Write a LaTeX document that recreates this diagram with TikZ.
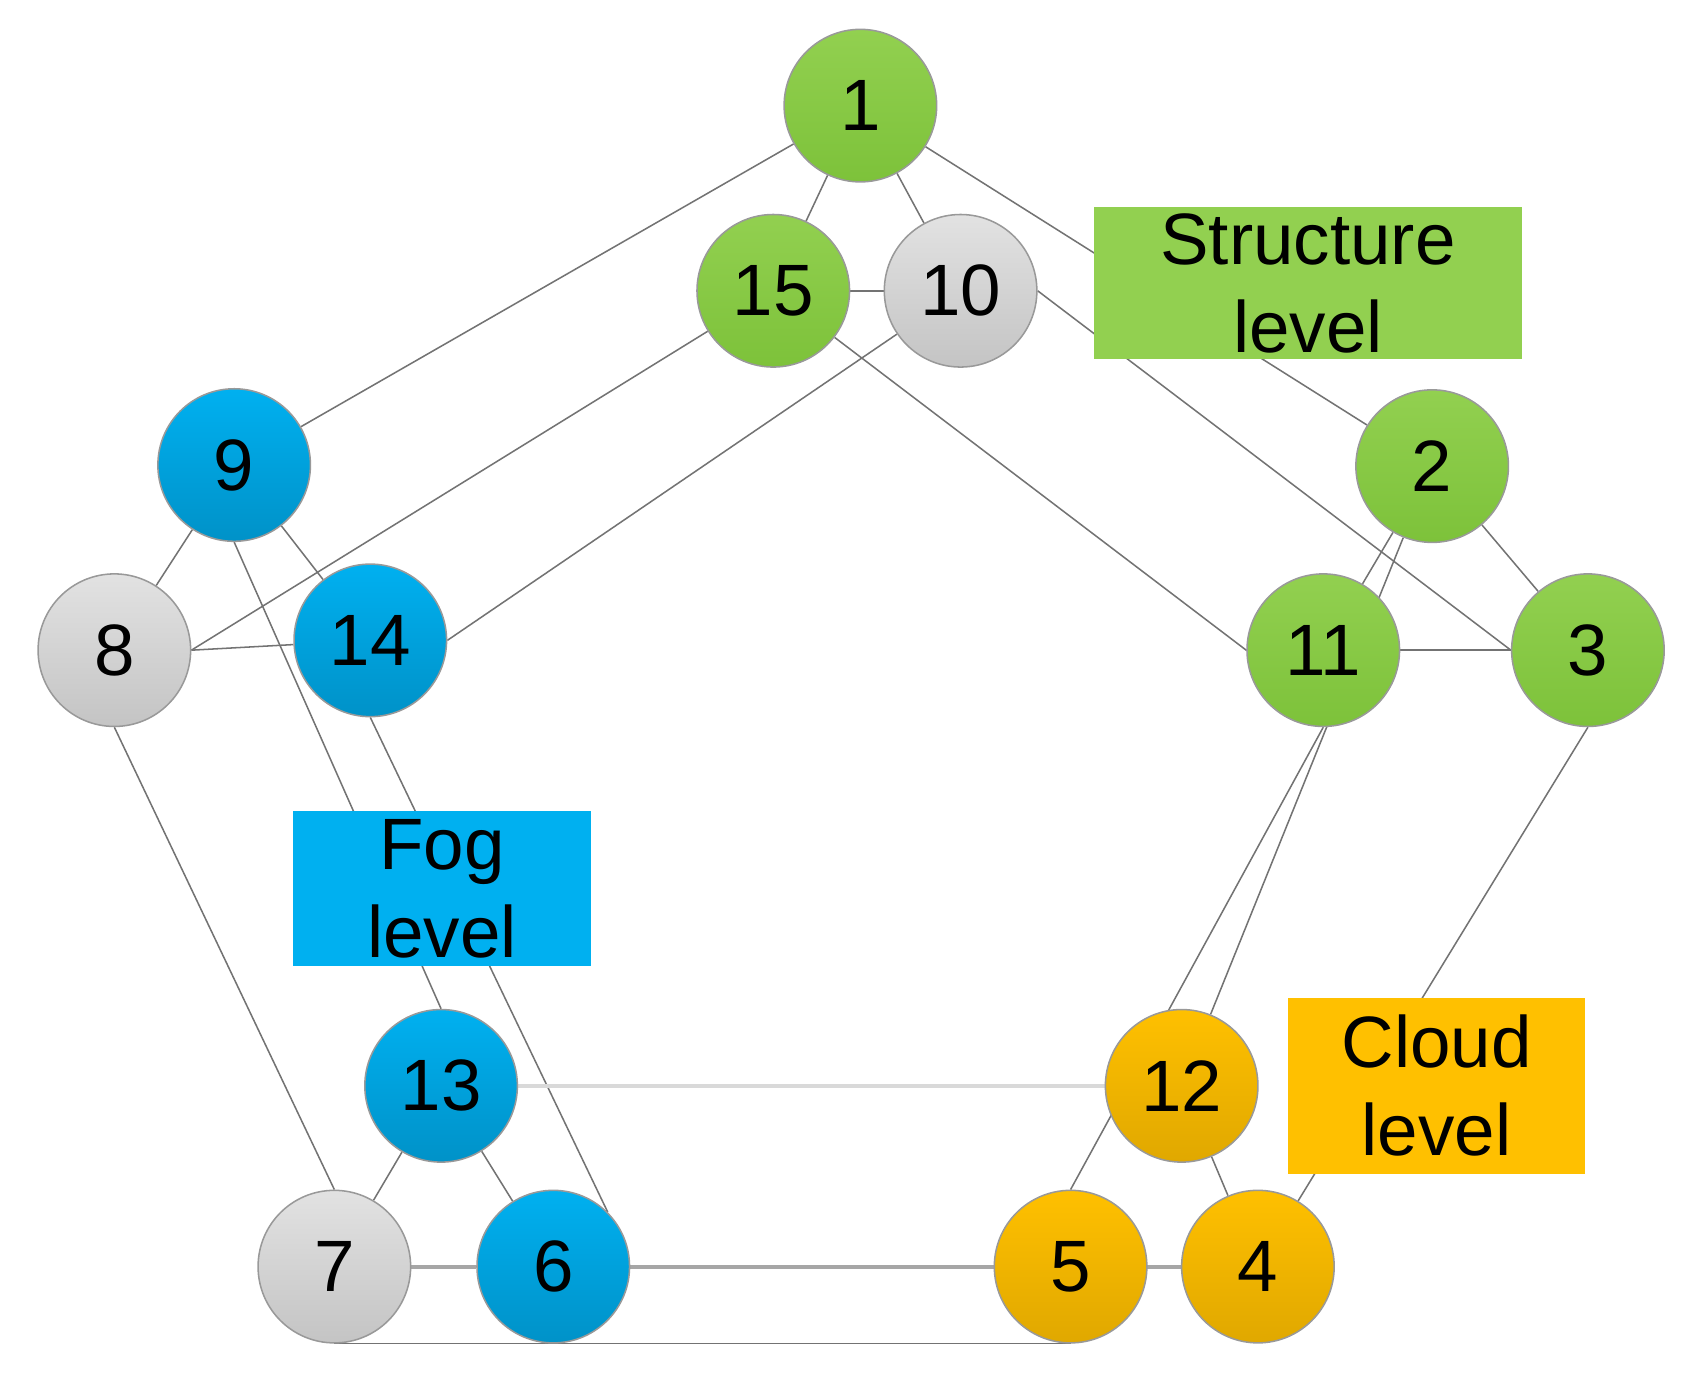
\documentclass[tikz,border=0pt]{standalone}
\usepackage{fontspec}
\setmainfont{Liberation Sans}
\usetikzlibrary{backgrounds}
\definecolor{gA}{HTML}{92D050}\definecolor{gB}{HTML}{7DC23A}
\definecolor{bA}{HTML}{00B0F0}\definecolor{bB}{HTML}{0092C8}
\definecolor{yA}{HTML}{E2E2E2}\definecolor{yB}{HTML}{C4C4C4}
\definecolor{oA}{HTML}{FFC000}\definecolor{oB}{HTML}{E0A800}
\tikzset{
 n/.style={circle,minimum size=1.4cm,inner sep=0pt,draw=black!40,line width=0.4pt,font=\fontsize{19}{20}\selectfont},
 gr/.style={n,top color=gA,bottom color=gB},
 bl/.style={n,top color=bA,bottom color=bB},
 gy/.style={n,top color=yA,bottom color=yB},
 or/.style={n,top color=oA,bottom color=oB},
 box/.style={draw=none,inner sep=0pt,align=center,font=\fontsize{19}{23}\selectfont},
 e/.style={draw=black!55,line width=0.4pt}
}
\begin{document}
\begin{tikzpicture}[x=0.01cm,y=-0.01cm]
\useasboundingbox (0,0) rectangle (1560,1271);
\node[box,fill=gA,minimum width=3.92cm,minimum height=1.4cm] (sl) at (1201,260) {Structure\\level};
\node[box,fill=bA,minimum width=2.73cm,minimum height=1.42cm] (fl) at (406,816) {Fog\\level};
\node[box,fill=oA,minimum width=2.72cm,minimum height=1.61cm] (cl) at (1319,997) {Cloud\\level};
\node[gr] (n1) at (790,97) {1};
\node[gr] (n15) at (710,267) {15};
\node[gy] (n10) at (882,267) {10};
\node[bl] (n9) at (215,427) {9};
\node[gr] (n2) at (1315,428) {2};
\node[gy] (n8) at (105,597) {8};
\node[bl] (n14) at (340,588) {14};
\node[gr] (n11) at (1215,597) {11};
\node[gr] (n3) at (1458,597) {3};
\node[bl] (n13) at (405,997) {13};
\node[or] (n12) at (1085,997) {12};
\node[gy] (n7) at (307,1163) {7};
\node[bl] (n6) at (508,1163) {6};
\node[or] (n5) at (983,1163) {5};
\node[or] (n4) at (1155,1163) {4};
\begin{scope}[on background layer]
\draw[e] (n1)--(n15); \draw[e] (n1)--(n10); \draw[e] (n1)--(n9); \draw[e] (n1)--(n2);
\draw[e] (n15)--(n10); \draw[e] (n10.east)--(n3.west); \draw[e] (n15)--(n11.west);
\draw[e] (n15)--(n8.east); \draw[e] (n10)--(n14.east);
\draw[e] (n9)--(n8); \draw[e] (n9)--(n14); \draw[e] (n8.east)--(n14);
\draw[e] (n9.south)--(n13.north); \draw[e] (n14.south)--(n6.north east);
\draw[e] (n8.south)--(n7.north); \draw[e] (n13)--(n7); \draw[e] (n13)--(n6);
\draw[e,line width=1pt,black!35] (n7)--(n6); \draw[e,line width=1pt,black!35] (n6)--(n4);
\draw[e] (n7.south)--(n5.south);
\draw[e,line width=1pt,black!15] (n13)--(n12);
\draw[e] (n2)--(n11); \draw[e] (n2)--(n3); \draw[e] (n11)--(n3);
\draw[e] (n11.south)--(n5.north); \draw[e] (n2)--(n12); \draw[e] (n12)--(n4);
\draw[e] (n3.south)--(n4);
\end{scope}
\end{tikzpicture}
\end{document}
